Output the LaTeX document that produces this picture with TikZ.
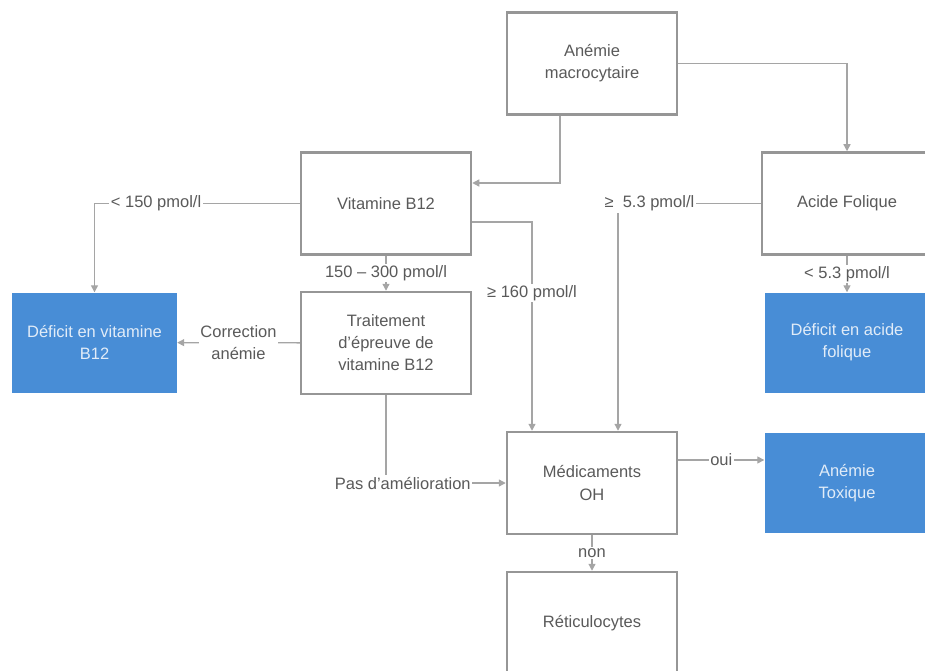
\documentclass[tikz,border=0pt]{standalone}
\usepackage{fontspec}
\setmainfont{Liberation Sans}
\usetikzlibrary{arrows.meta,quotes}

\definecolor{boxgray}{RGB}{150,150,150}
\definecolor{linegray}{RGB}{165,165,165}
\definecolor{txtgray}{RGB}{90,90,90}
\definecolor{boxblue}{RGB}{72,141,214}
\definecolor{bluetxt}{RGB}{225,236,248}

\begin{document}
\begin{tikzpicture}[x=1pt,y=-1pt,
  font=\fontsize{16.5}{22}\selectfont,
  box/.style={rectangle, draw=boxgray, line width=2.5pt, fill=white, text=txtgray, align=center, minimum width=170pt, minimum height=102pt, inner sep=2pt},
  bluebox/.style={rectangle, fill=boxblue, text=bluetxt, align=center, minimum width=165pt, minimum height=100pt, inner sep=2pt},
  conn/.style={draw=linegray, line width=1.3pt, -{Triangle[length=7pt,width=7pt]}},
  lab/.style={fill=white, text=txtgray, inner sep=1.5pt},
  every edge quotes/.style={lab}]
\path[use as bounding box] (0,0) rectangle (925,671);
\clip (0,0) rectangle (925,671);
\node[box] (anemie) at (592,63.5) {Anémie\\macrocytaire};
\node[box] (vitb) at (386,203.5) {Vitamine B12};
\node[box] (acide) at (847,203.5) {Acide Folique};
\node[bluebox] (defvit) at (94.5,342.5) {Déficit en vitamine\\B12};
\node[box] (trait) at (386,343) {Traitement\\d'épreuve de\\vitamine B12};
\node[bluebox] (defac) at (847,342.5) {Déficit en acide\\folique};
\node[box] (medic) at (592,483) {Médicaments\\OH};
\node[bluebox] (toxique) at (847,483) {Anémie\\Toxique};
\node[box] (reti) at (592,623) {Réticulocytes};
\draw[conn] ([xshift=-32pt]anemie.south) |- ([yshift=20.5pt]vitb.east);
\draw[conn] (anemie.east) -| (acide.north);
\draw[conn] (vitb.west) -| node[lab, pos=0.35] {< 150 pmol/l} (defvit.north);
\draw[conn] (vitb) to ["150 – 300 pmol/l"] (trait);
\draw[conn] ([yshift=-18.5pt]vitb.east) -| node[lab, pos=0.67] {≥ 160 pmol/l} ([xshift=-60pt]medic.north);
\draw[conn] (acide.west) -| node[lab, pos=0.39] {≥\ \ 5.3 pmol/l} ([xshift=26pt]medic.north);
\draw[conn] (acide) to ["< 5.3 pmol/l"] (defac);
\draw[conn] (trait) -- node[lab, align=center] {Correction\\anémie} (defvit);
\draw[conn] (trait.south) |- node[lab, pos=0.57] {Pas d'amélioration} (medic.west);
\draw[conn] ([yshift=23pt]medic.east) to ["oui"] ([yshift=23pt]toxique.west);
\draw[conn] (medic) to ["non"] (reti);
\end{tikzpicture}
\end{document}
